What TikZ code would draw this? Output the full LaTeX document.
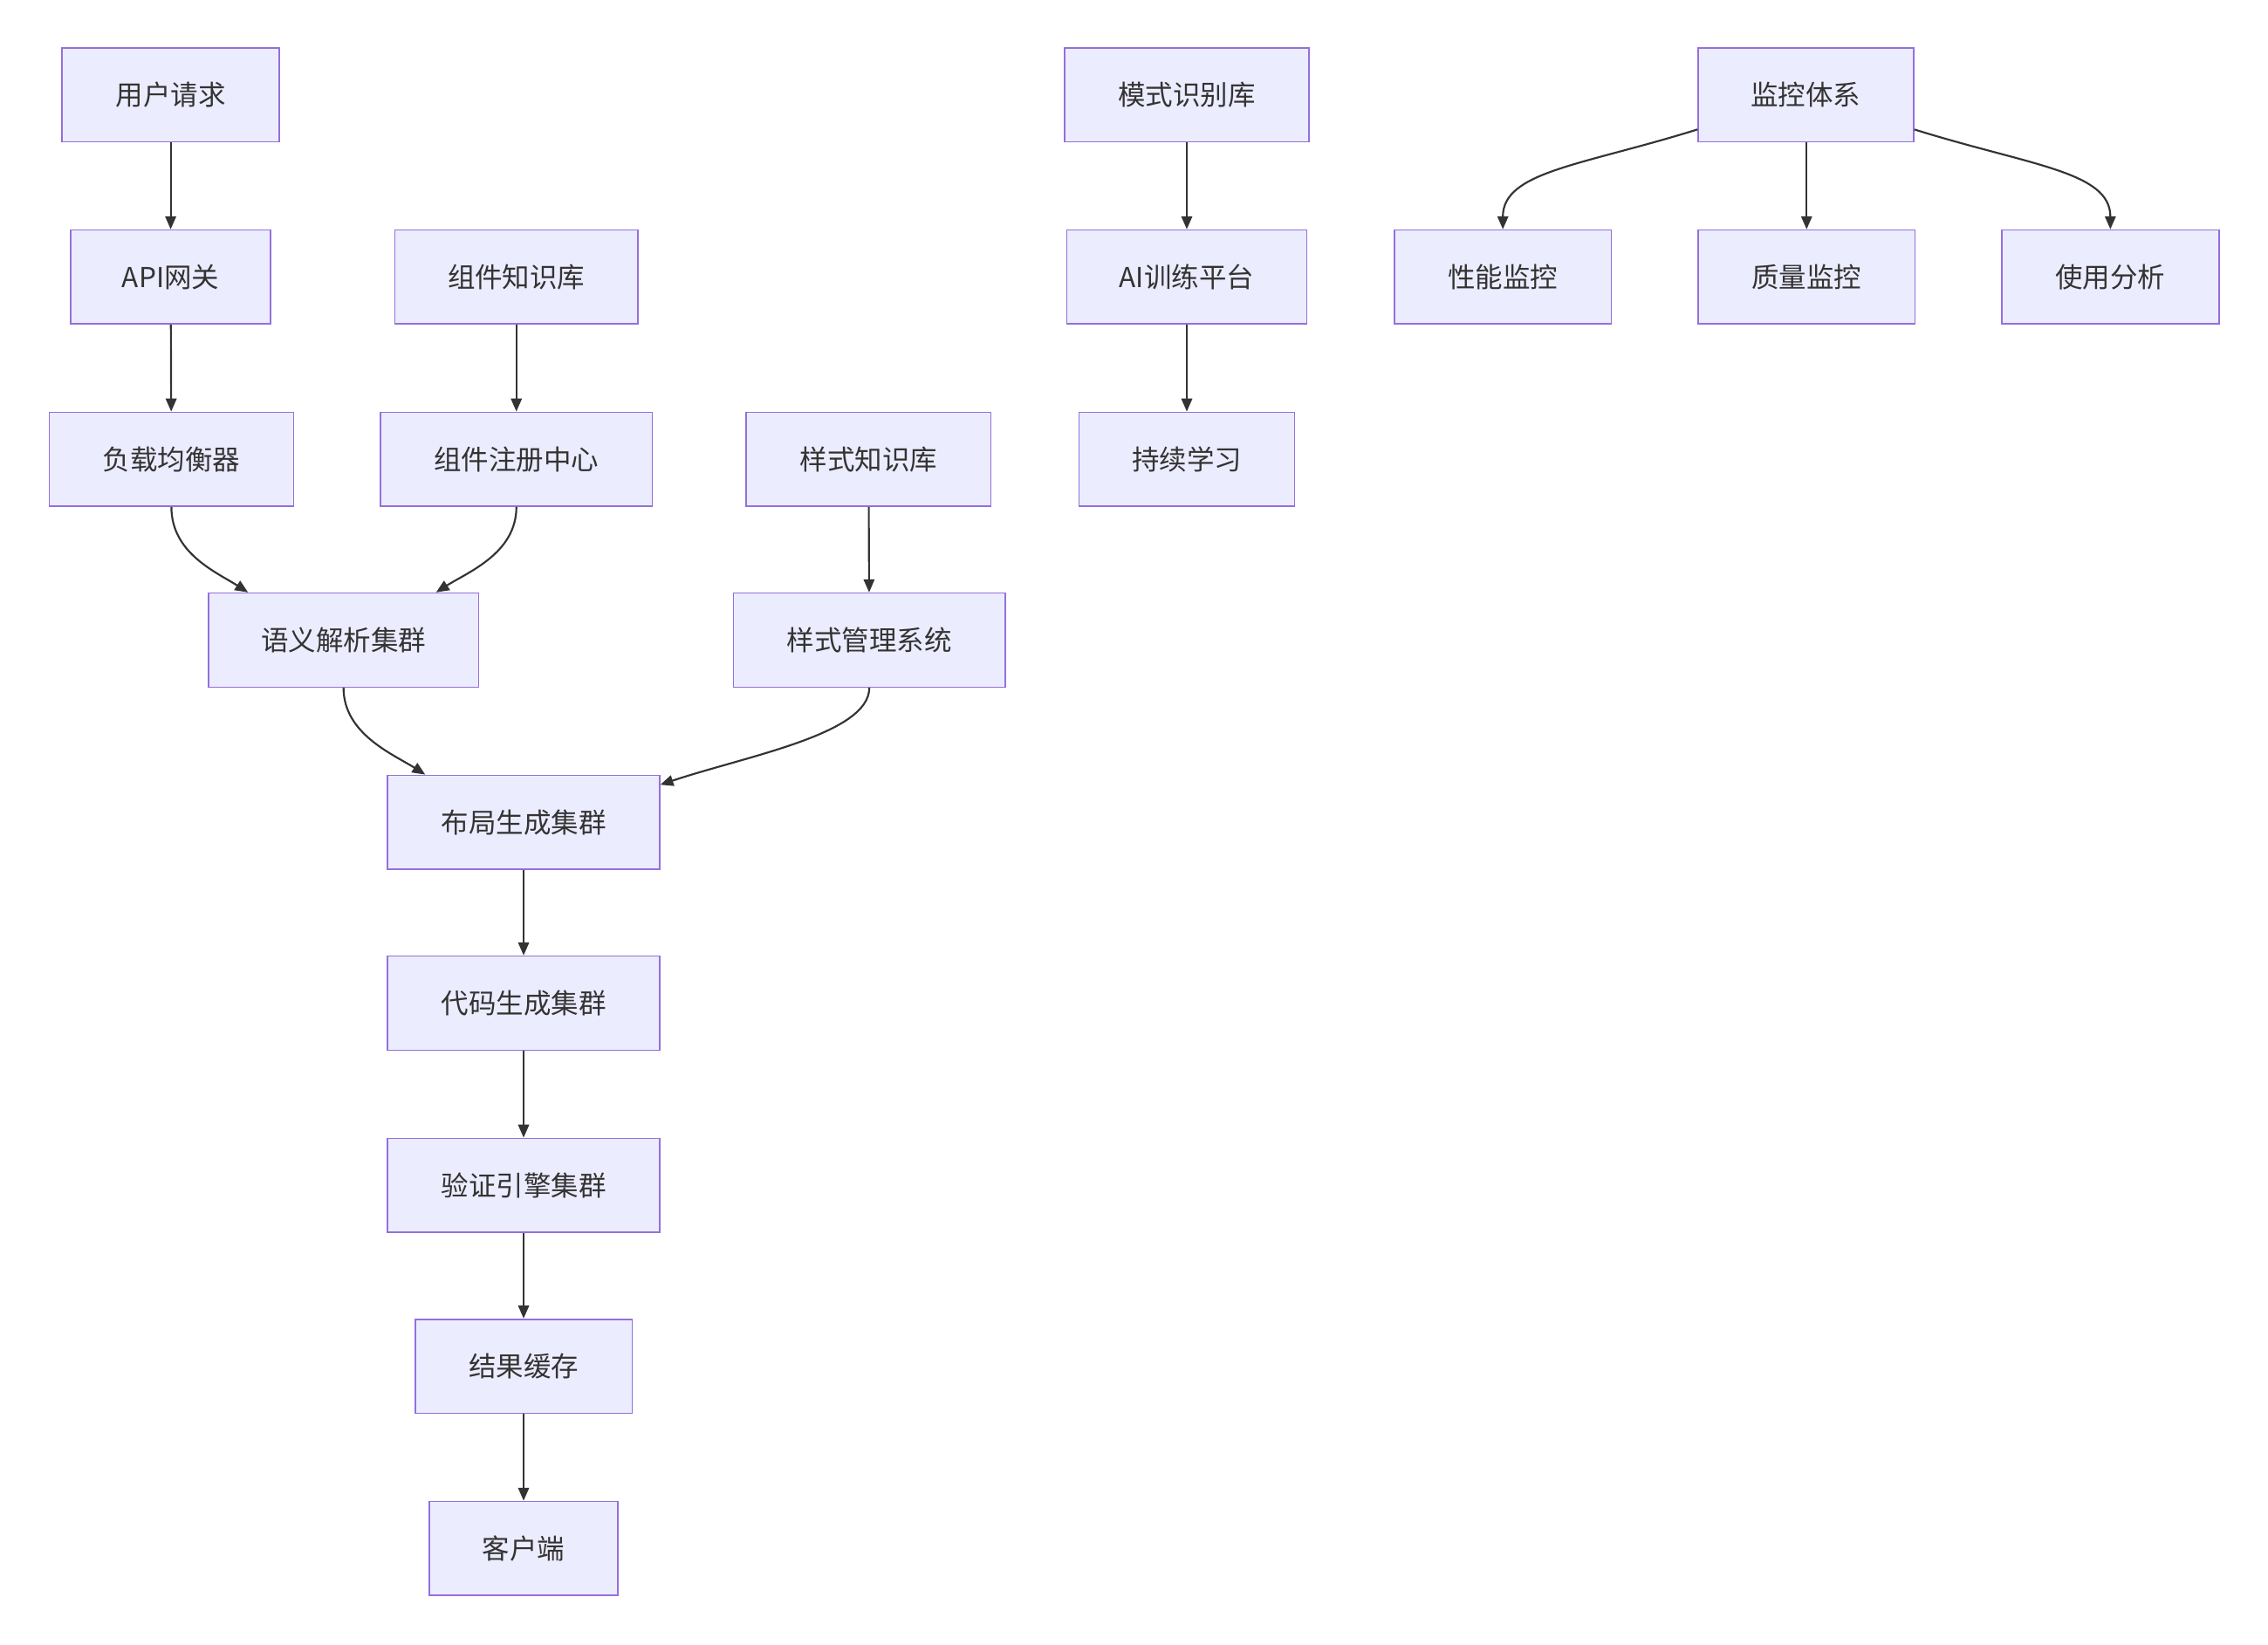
\documentclass[tikz,border=0pt]{standalone}
\usepackage{fontspec}
\setmainfont{Noto Sans CJK SC}
\usetikzlibrary{arrows.meta}
\definecolor{boxfill}{HTML}{ECECFF}
\definecolor{boxline}{HTML}{9370DB}
\definecolor{ink}{HTML}{333333}
\tikzset{
  box/.style={draw=boxline, fill=boxfill, line width=1pt, rectangle, inner sep=0pt,
    text=ink, font=\fontsize{19}{23}\selectfont, minimum height=65pt},
  conn/.style={draw=ink, line width=1.3pt, -{Triangle[length=9pt,width=7.5pt]}}
}
\begin{document}
\begin{tikzpicture}[x=1pt,y=1pt]
\useasboundingbox (0,0) rectangle (1568,-1137);
% left column
\node[box, minimum width=150pt] (req) at (118,-65.5) {用户请求};
\node[box, minimum width=138pt] (api) at (118,-191.5) {API网关};
\node[box, minimum width=169pt] (lb) at (118.5,-317.5) {负载均衡器};
\node[box, minimum width=168pt] (ckb) at (357,-191.5) {组件知识库};
\node[box, minimum width=188pt] (creg) at (357,-317.5) {组件注册中心};
\node[box, minimum width=169pt] (skb) at (600.5,-317.5) {样式知识库};
\node[box, minimum width=187pt] (sem) at (237.5,-442.5) {语义解析集群};
\node[box, minimum width=188pt] (sms) at (601,-442.5) {样式管理系统};
\node[box, minimum width=188pt] (lay) at (362,-568.5) {布局生成集群};
\node[box, minimum width=188pt] (code) at (362,-693.5) {代码生成集群};
\node[box, minimum width=188pt] (ver) at (362,-819.5) {验证引擎集群};
\node[box, minimum width=150pt] (cache) at (362,-944.5) {结果缓存};
\node[box, minimum width=130pt] (cli) at (362,-1070.5) {客户端};
% middle column
\node[box, minimum width=169pt] (pat) at (820.5,-65.5) {模式识别库};
\node[box, minimum width=166pt] (ai) at (820.5,-191.5) {AI训练平台};
\node[box, minimum width=149pt] (learn) at (820.5,-317.5) {持续学习};
% monitoring
\node[box, minimum width=149pt] (mon) at (1248.5,-65.5) {监控体系};
\node[box, minimum width=150pt] (perf) at (1039,-191.5) {性能监控};
\node[box, minimum width=150pt] (qual) at (1249,-191.5) {质量监控};
\node[box, minimum width=150pt] (use) at (1459,-191.5) {使用分析};
% connectors
\draw[conn] (req) -- (api);
\draw[conn] (api) -- (lb);
\draw[conn] (ckb) -- (creg);
\draw[conn] (skb) -- (sms);
\draw[conn] (lb.south) .. controls +(0,-32) and +(-22,14) .. ([xshift=-66pt]sem.north);
\draw[conn] (creg.south) .. controls +(0,-32) and +(22,14) .. ([xshift=64pt]sem.north);
\draw[conn] (sem.south) .. controls +(0,-32) and +(-22,14) .. ([xshift=-68pt]lay.north);
\draw[conn] (sms.south) .. controls +(0,-32) and +(60,20) .. ([yshift=-7pt]lay.north east);
\draw[conn] (lay) -- (code);
\draw[conn] (code) -- (ver);
\draw[conn] (ver) -- (cache);
\draw[conn] (cache) -- (cli);
\draw[conn] (pat) -- (ai);
\draw[conn] (ai) -- (learn);
\draw[conn] ([yshift=9pt]mon.south west) .. controls +(-80,-25) and +(0,40) .. (perf.north);
\draw[conn] (mon.south -| qual.north) -- (qual.north);
\draw[conn] ([yshift=9pt]mon.south east) .. controls +(80,-25) and +(0,40) .. (use.north);
\end{tikzpicture}
\end{document}
